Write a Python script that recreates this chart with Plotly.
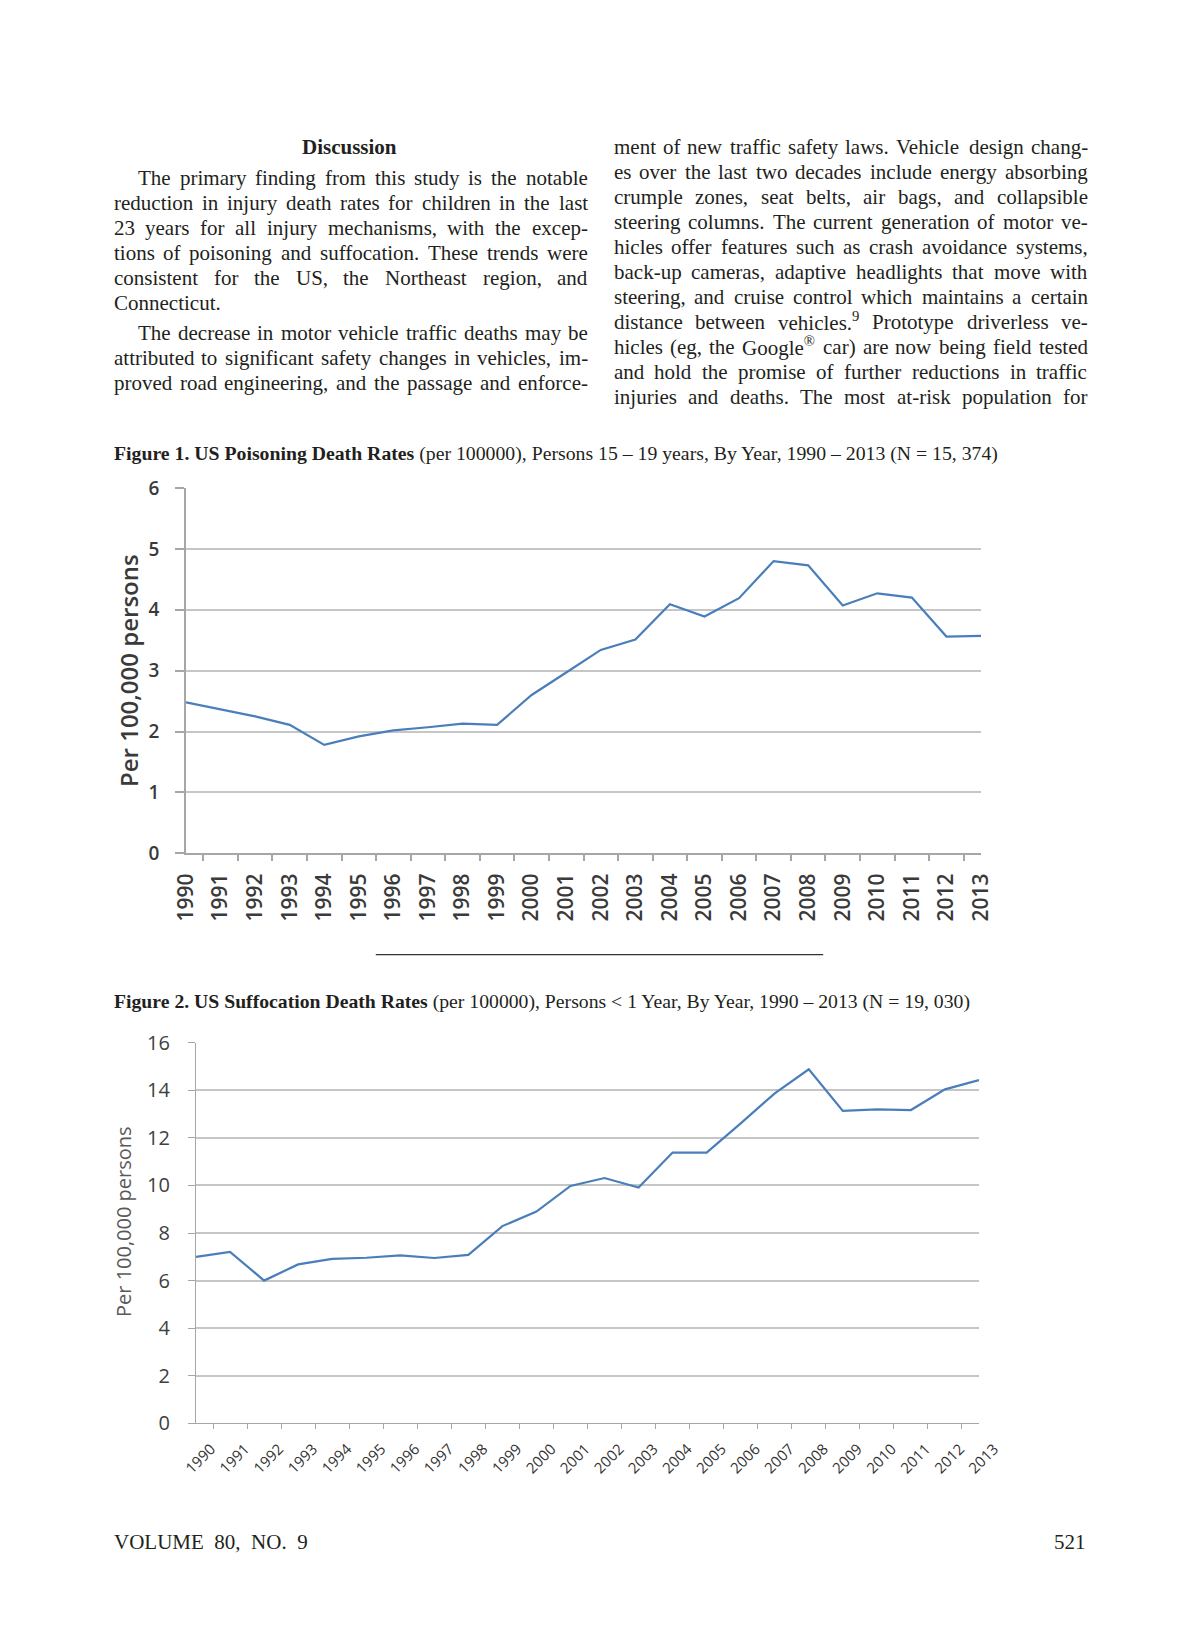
import re
import plotly.graph_objects as go

# ---------------- data ----------------
years = ["1990", "1991", "1992", "1993", "1994", "1995", "1996", "1997", "1998", "1999",
         "2000", "2001", "2002", "2003", "2004", "2005", "2006", "2007", "2008", "2009",
         "2010", "2011", "2012", "2013"]
poisoning = [2.48, 2.37, 2.25, 2.11, 1.78, 1.92, 2.02, 2.07, 2.13, 2.11,
             2.60, 2.97, 3.34, 3.51, 4.09, 3.89, 4.19, 4.80, 4.73, 4.07,
             4.27, 4.20, 3.56, 3.57]
suffocation = [7.00, 7.21, 6.00, 6.68, 6.91, 6.96, 7.06, 6.95, 7.08, 8.29,
               8.90, 9.98, 10.31, 9.91, 11.38, 11.38, 12.61, 13.87, 14.88, 13.13,
               13.20, 13.17, 14.04, 14.43]
poison_ticks = [0, 1, 2, 3, 4, 5, 6]
suff_ticks = [0, 2, 4, 6, 8, 10, 12, 14, 16]
y_title = "Per 100,000 persons"

heading = "Discussion"
left_para1 = [
    "The primary finding from this study is the notable",
    "reduction in injury death rates for children in the last",
    "23 years for all injury mechanisms, with the excep-",
    "tions of poisoning and suffocation. These trends were",
    "consistent for the US, the Northeast region, and",
    "Connecticut.",
]
left_para2 = [
    "The decrease in motor vehicle traffic deaths may be",
    "attributed to significant safety changes in vehicles, im-",
    "proved road engineering, and the passage and enforce-",
]
right_col = [
    "ment of new traffic safety laws. Vehicle design chang-",
    "es over the last two decades include energy absorbing",
    "crumple zones, seat belts, air bags, and collapsible",
    "steering columns. The current generation of motor ve-",
    "hicles offer features such as crash avoidance systems,",
    "back-up cameras, adaptive headlights that move with",
    "steering, and cruise control which maintains a certain",
    "distance between vehicles.<sup>9</sup> Prototype driverless ve-",
    "hicles (eg, the Google<sup>®</sup> car) are now being field tested",
    "and hold the promise of further reductions in traffic",
    "injuries and deaths. The most at-risk population for",
]
cap1_bold = "Figure 1. US Poisoning Death Rates"
cap1_rest = " (per 100000), Persons 15 – 19 years, By Year, 1990 – 2013 (N = 15, 374)"
cap2_bold = "Figure 2. US Suffocation Death Rates"
cap2_rest = " (per 100000), Persons &lt; 1 Year, By Year, 1990 – 2013 (N = 19, 030)"
footer_left = "VOLUME  80,  NO.  9"
footer_right = "521"

# ---------------- geometry helpers ----------------
W, H = 1200, 1650
def X(px):
    return px / W
def Y(py):
    return 1 - py / H

SERIF = "Liberation Serif"
SANS = "Open Sans"
TEXT_COLOR = "#231f20"
LINE_BLUE = "#4a7ebb"

# Times (Liberation Serif) advance widths, 1/1000 em
_tw = {
    ' ': 250, '!': 333, '"': 408, '#': 500, '$': 500, '%': 833, '&': 778, "'": 333,
    '(': 333, ')': 333, '*': 500, '+': 564, ',': 250, '-': 333, '.': 250, '/': 278,
    ':': 278, ';': 278, '<': 564, '=': 564, '>': 564, '?': 444, '@': 921,
    'A': 722, 'B': 667, 'C': 667, 'D': 722, 'E': 611, 'F': 556, 'G': 722, 'H': 722,
    'I': 333, 'J': 389, 'K': 722, 'L': 611, 'M': 889, 'N': 722, 'O': 722, 'P': 556,
    'Q': 722, 'R': 667, 'S': 556, 'T': 611, 'U': 722, 'V': 722, 'W': 944, 'X': 722,
    'Y': 722, 'Z': 611, 'a': 444, 'b': 500, 'c': 444, 'd': 500, 'e': 444, 'f': 333,
    'g': 500, 'h': 500, 'i': 278, 'j': 278, 'k': 500, 'l': 278, 'm': 778, 'n': 500,
    'o': 500, 'p': 500, 'q': 500, 'r': 333, 's': 389, 't': 278, 'u': 500, 'v': 500,
    'w': 722, 'x': 500, 'y': 500, 'z': 444, '®': 760, '–': 500,
}
for d in "0123456789":
    _tw[d] = 500

def text_w(s, size):
    total = 0.0
    for part in re.split(r'(<sup>.*?</sup>)', s):
        if part.startswith('<sup>'):
            inner, f = part[5:-6], 0.7
        else:
            inner, f = part, 1.0
        inner = inner.replace('&lt;', '<')
        total += sum(_tw.get(c, 500) for c in inner) * f
    return total * size / 1000.0

annotations = []
BODY = 21

def add_line(text, x0, x1, y, size=BODY, justify=True):
    words = text.split(' ')
    widths = [text_w(w, size) for w in words]
    if justify and len(words) > 1:
        gap = (x1 - x0 - sum(widths)) / (len(words) - 1)
    else:
        gap = 250 * size / 1000.0
    x = x0
    for w, wd in zip(words, widths):
        annotations.append(dict(
            x=X(x), y=Y(y), xref="paper", yref="paper", xanchor="left", yanchor="middle",
            text=w, showarrow=False, borderpad=0,
            font=dict(family=SERIF, size=size, color=TEXT_COLOR)))
        x += wd + gap

# columns
LX0, LX1 = 112.7, 586.7
RX0, RX1 = 612.7, 1086.7
INDENT = 24.6
annotations.append(dict(
    x=X((LX0 + LX1) / 2), y=Y(146.7), xref="paper", yref="paper", xanchor="center",
    yanchor="middle", text="<b>" + heading + "</b>", showarrow=False,
    font=dict(family=SERIF, size=21, color=TEXT_COLOR)))
y = 178.3
for i, line in enumerate(left_para1):
    add_line(line, LX0 + (INDENT if i == 0 else 0), LX1, y,
             justify=(i < len(left_para1) - 1))
    y += 25
y = 333.3
for i, line in enumerate(left_para2):
    add_line(line, LX0 + (INDENT if i == 0 else 0), LX1, y)
    y += 25
y = 146.7
for line in right_col:
    add_line(line, RX0, RX1, y)
    y += 25

# captions
def caption(bold, rest, x0, x1, y):
    units = text_w(bold, 1000) * 1.06 + text_w(rest, 1000)
    size = (x1 - x0) / (units / 1000.0)
    annotations.append(dict(
        x=X(x0), y=Y(y), xref="paper", yref="paper", xanchor="left", yanchor="middle",
        text="<b>" + bold + "</b>" + rest, showarrow=False, borderpad=0,
        font=dict(family=SERIF, size=size, color=TEXT_COLOR)))

caption(cap1_bold, cap1_rest, 112.6, 1004, 453.7)
caption(cap2_bold, cap2_rest, 112.6, 979, 1001)

# footer
annotations.append(dict(
    x=X(112.6), y=Y(1542), xref="paper", yref="paper", xanchor="left", yanchor="middle",
    text=footer_left, showarrow=False, borderpad=0,
    font=dict(family=SERIF, size=21, color=TEXT_COLOR)))
annotations.append(dict(
    x=X(1087), y=Y(1542), xref="paper", yref="paper", xanchor="right", yanchor="middle",
    text=footer_right, showarrow=False, borderpad=0,
    font=dict(family=SERIF, size=21, color=TEXT_COLOR)))

# axis titles
annotations.append(dict(
    x=X(128), y=Y(671), xref="paper", yref="paper", xanchor="center", yanchor="middle",
    text=y_title, textangle=-90, showarrow=False,
    font=dict(family=SANS, size=24, color="#3a3a3a", weight=600)))
annotations.append(dict(
    x=X(123), y=Y(1221), xref="paper", yref="paper", xanchor="center", yanchor="middle",
    text=y_title, textangle=-90, showarrow=False,
    font=dict(family=SANS, size=20, color="#595959")))

# ---------------- figure ----------------
fig = go.Figure()
fig.add_trace(go.Scatter(x=years, y=poisoning, mode="lines", xaxis="x", yaxis="y",
                         line=dict(color=LINE_BLUE, width=2.2), showlegend=False))
fig.add_trace(go.Scatter(x=years, y=suffocation, mode="lines", xaxis="x2", yaxis="y2",
                         line=dict(color=LINE_BLUE, width=2.2), showlegend=False))

AX_COLOR = "#a6a6a6"
GRID = "#c6c6c6"

fig.update_layout(
    template="none",
    width=W, height=H, margin=dict(l=0, r=0, t=0, b=0, autoexpand=False),
    paper_bgcolor="white", plot_bgcolor="white", showlegend=False,
    annotations=annotations,
    xaxis=dict(domain=[X(186), X(981)], anchor="y", type="category", automargin=False,
               tickson="boundaries", ticks="outside", ticklen=6, tickcolor=AX_COLOR,
               tickwidth=1.5, showline=True, linecolor=AX_COLOR, linewidth=1.5,
               showgrid=False, tickangle=-90, ticklabelstandoff=10,
               tickfont=dict(family=SANS, size=21, color="#3a3a3a", weight=600)),
    yaxis=dict(domain=[Y(853.3), Y(488)], anchor="x", range=[0, 6], automargin=False,
               tickvals=poison_ticks, showgrid=True, gridcolor=GRID, gridwidth=2,
               zeroline=False, showline=True, linecolor=AX_COLOR, linewidth=1.5,
               ticks="outside", ticklen=9, tickcolor=AX_COLOR, tickwidth=1.5,
               ticklabelstandoff=12,
               tickfont=dict(family=SANS, size=19, color="#3a3a3a", weight=600)),
    xaxis2=dict(domain=[X(196), X(979)], anchor="y2", type="category", automargin=False,
                tickson="boundaries", ticks="outside", ticklen=5, tickcolor=AX_COLOR,
                tickwidth=1.2, showline=True, linecolor=AX_COLOR, linewidth=1.2,
                showgrid=False, tickangle=-45, ticklabelstandoff=10, ticklabelshift=15,
                tickfont=dict(family=SANS, size=15, color="#333333")),
    yaxis2=dict(domain=[Y(1423.3), Y(1042.7)], anchor="x2", range=[0, 16], automargin=False,
                tickvals=suff_ticks, showgrid=True, gridcolor=GRID, gridwidth=1.5,
                zeroline=False, showline=True, linecolor=AX_COLOR, linewidth=1.2,
                ticks="outside", ticklen=7, tickcolor=AX_COLOR, tickwidth=1.2,
                ticklabelstandoff=14,
                tickfont=dict(family=SANS, size=20, color="#404040")),
    shapes=[dict(type="line", xref="paper", yref="paper", x0=X(375.8), x1=X(823.2),
                 y0=Y(954.7), y1=Y(954.7), line=dict(color="#333333", width=1.2))],
)

fig.write_html("out.html", config={"displayModeBar": False},
               post_script="document.body.style.margin='0';document.body.style.padding='0';")
